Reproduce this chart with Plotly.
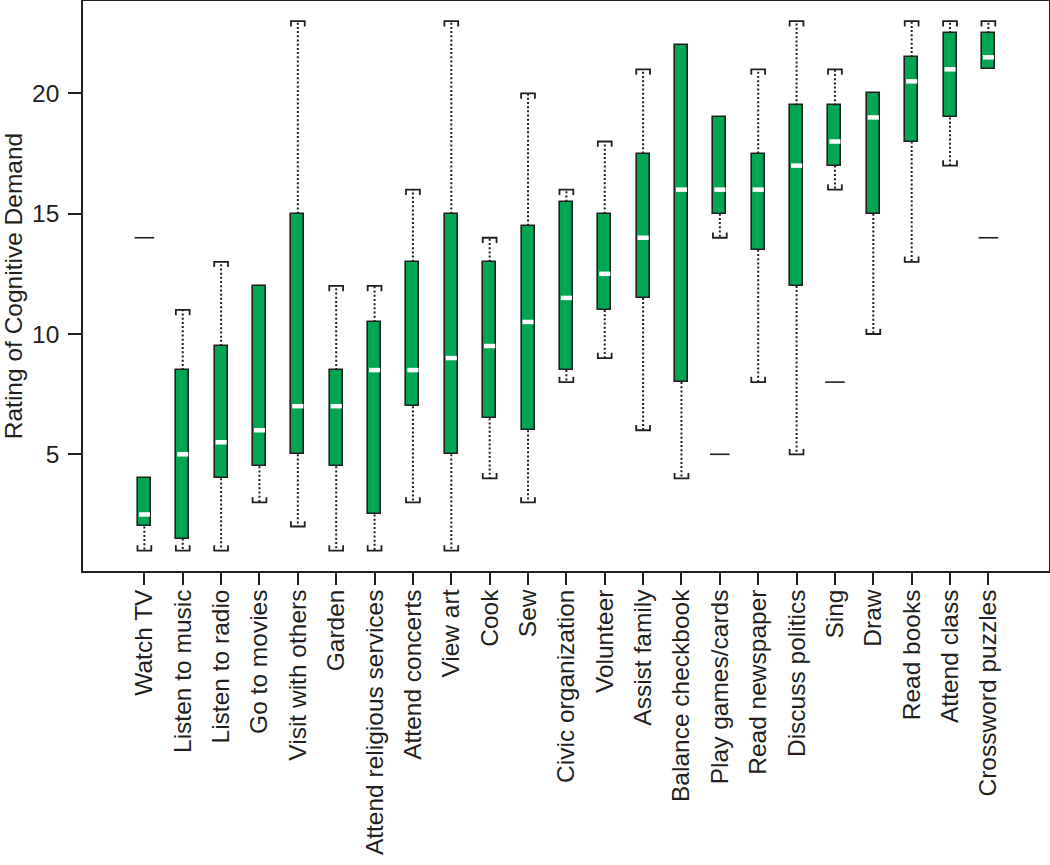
import plotly.graph_objects as go

labels = ["Watch TV", "Listen to music", "Listen to radio", "Go to movies", "Visit with others",
          "Garden", "Attend religious services", "Attend concerts", "View art", "Cook", "Sew",
          "Civic organization", "Volunteer", "Assist family", "Balance checkbook",
          "Play games/cards", "Read newspaper", "Discuss politics", "Sing", "Draw",
          "Read books", "Attend class", "Crossword puzzles"]
q1 = [2, 1.5, 4, 4.5, 5, 4.5, 2.5, 7, 5, 6.5, 6, 8.5, 11, 11.5, 8, 15, 13.5, 12, 17, 15, 18, 19, 21]
median = [2.5, 5, 5.5, 6, 7, 7, 8.5, 8.5, 9, 9.5, 10.5, 11.5, 12.5, 14, 16, 16, 16, 17, 18, 19, 20.5, 21, 21.5]
q3 = [4, 8.5, 9.5, 12, 15, 8.5, 10.5, 13, 15, 13, 14.5, 15.5, 15, 17.5, 22, 19, 17.5, 19.5, 19.5, 20, 21.5, 22.5, 22.5]
lower = [1, 1, 1, 3, 2, 1, 1, 3, 1, 4, 3, 8, 9, 6, 4, 14, 8, 5, 16, 10, 13, 17, 21]
upper = [4, 11, 13, 12, 23, 12, 12, 16, 23, 14, 20, 16, 18, 21, 22, 19, 21, 23, 21, 20, 23, 23, 23]
outlier_cat = ["Watch TV", "Play games/cards", "Sing", "Crossword puzzles"]
outlier_val = [14, 5, 8, 14]

GREEN = "#00a651"
DARK = "#231f20"
FONT = "Liberation Sans, Arial, sans-serif"
FS = 24.5

pos = list(range(1, len(labels) + 1))
BOXW = 0.34
CAPH = 0.18
STUB = 0.22
MEDH = 0.145

# whiskers
wx, wy = [], []
for p, a, b, lo, hi in zip(pos, q1, q3, lower, upper):
    if hi > b:
        wx += [p, p, None]; wy += [b, hi, None]
    if lo < a:
        wx += [p, p, None]; wy += [a, lo, None]

# caps (bracket shaped)
cx, cy = [], []
for p, a, b, lo, hi in zip(pos, q1, q3, lower, upper):
    if hi > b:
        cx += [p - CAPH, p - CAPH, p + CAPH, p + CAPH, None]
        cy += [hi - STUB, hi, hi, hi - STUB, None]
    if lo < a:
        cx += [p - CAPH, p - CAPH, p + CAPH, p + CAPH, None]
        cy += [lo + STUB, lo, lo, lo + STUB, None]

# medians
mx, my = [], []
for p, m in zip(pos, median):
    mx += [p - MEDH, p + MEDH, None]; my += [m, m, None]

ox = [pos[labels.index(c)] for c in outlier_cat]

fig = go.Figure()
fig.add_trace(go.Scatter(x=wx, y=wy, mode="lines",
                         line=dict(color=DARK, width=2, dash="2px,2.2px"),
                         hoverinfo="skip", showlegend=False))
fig.add_trace(go.Bar(x=pos, y=[b - a for a, b in zip(q1, q3)], base=q1, width=BOXW,
                     marker=dict(color=GREEN, line=dict(color=DARK, width=1.6)),
                     showlegend=False))
fig.add_trace(go.Scatter(x=mx, y=my, mode="lines", line=dict(color="white", width=4.5),
                         hoverinfo="skip", showlegend=False))
fig.add_trace(go.Scatter(x=cx, y=cy, mode="lines", line=dict(color=DARK, width=1.8),
                         hoverinfo="skip", showlegend=False))
fig.add_trace(go.Scatter(x=ox, y=outlier_val, mode="markers",
                         marker=dict(symbol="line-ew", size=14,
                                     line=dict(color=DARK, width=1.6)),
                         showlegend=False))

fig.update_layout(
    width=1050, height=865,
    margin=dict(l=83, r=1, t=1, b=294),
    plot_bgcolor="white", paper_bgcolor="white",
    font=dict(family=FONT, size=FS, color=DARK),
    xaxis=dict(range=[-0.6, 24.58], tickmode="array", tickvals=pos, ticktext=labels,
               tickangle=-90, ticks="outside", ticklen=12, tickwidth=1.5, tickcolor=DARK,
               showline=True, linecolor=DARK, linewidth=1.5, mirror=True, automargin=False,
               showgrid=False, zeroline=False, ticklabelstandoff=-5,
               tickfont=dict(family=FONT, size=FS, color=DARK)),
    yaxis=dict(range=[0.15, 23.84], tickmode="array", tickvals=[5, 10, 15, 20],
               ticks="outside", ticklen=13, tickwidth=1.5, tickcolor=DARK,
               showline=True, linecolor=DARK, linewidth=1.5, mirror=True, automargin=False,
               showgrid=False, zeroline=False, ticklabelstandoff=4,
               tickfont=dict(family=FONT, size=FS, color=DARK),
               title=dict(text="Rating of Cognitive Demand", standoff=8,
                          font=dict(family=FONT, size=FS, color=DARK))),
    bargap=0,
)

fig.write_html("out.html", config={"displayModeBar": False},
               post_script="document.body.style.margin='0px';document.body.style.overflow='hidden';")
